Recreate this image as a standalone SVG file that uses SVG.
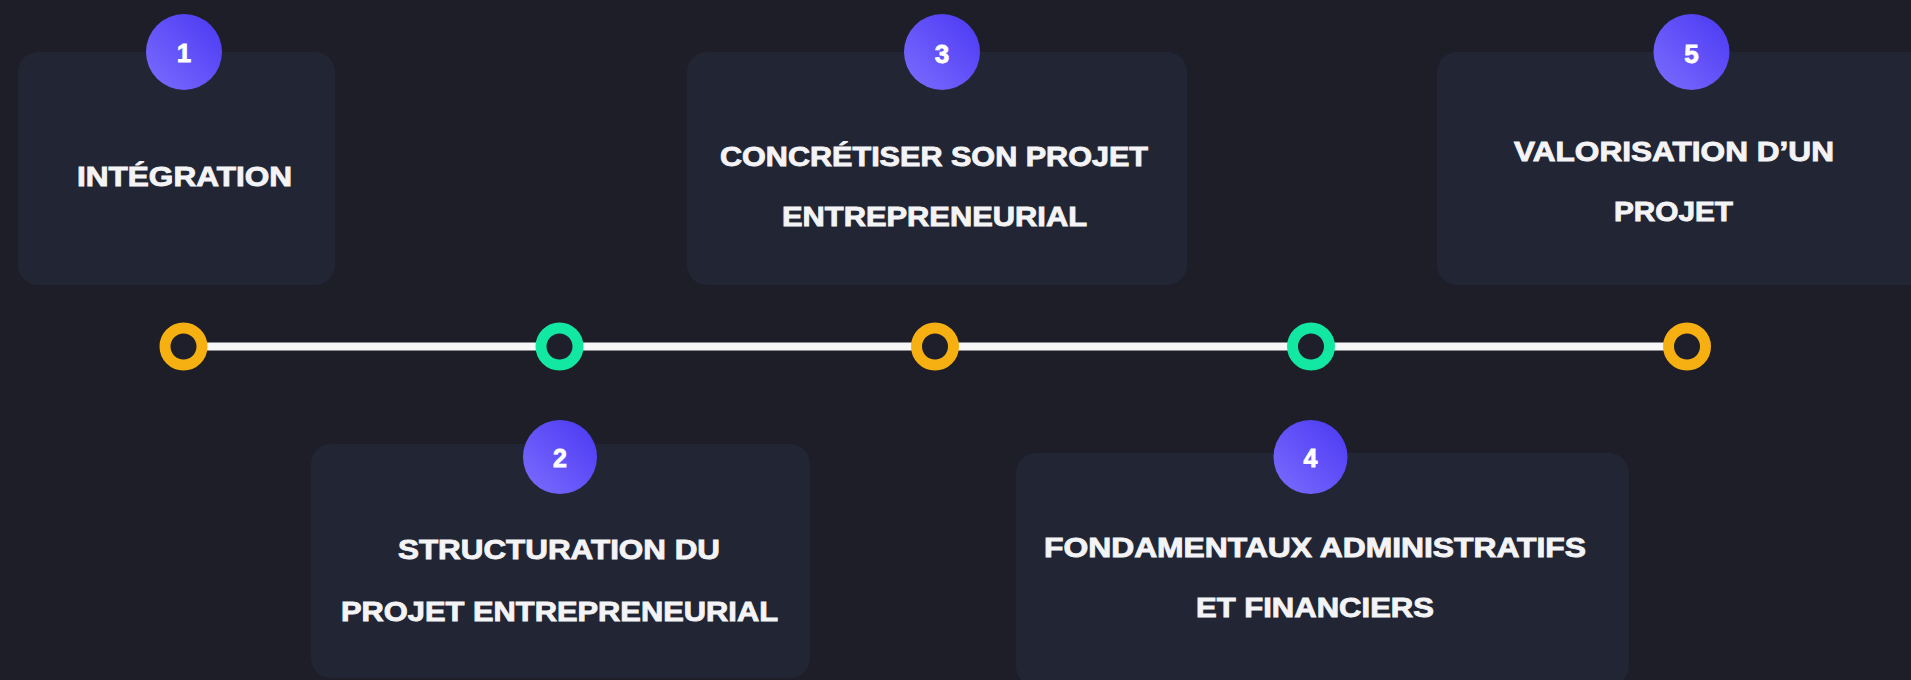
<svg xmlns="http://www.w3.org/2000/svg" width="1911" height="680" viewBox="0 0 1911 680">
  <defs>
    <linearGradient id="badge" x1="0" y1="1" x2="1" y2="0">
      <stop offset="0" stop-color="#7c6dff"/>
      <stop offset="1" stop-color="#4a38f2"/>
    </linearGradient>
  </defs>
  <style>
    .card { fill: #222634; }
    .badge { fill: url(#badge); }
    .num { font-family: "Liberation Sans", Arial, sans-serif; font-weight: 700; fill: #ffffff; text-anchor: middle; stroke: #ffffff; stroke-width: 0.8; }
    .label { font-family: "Liberation Sans", Arial, sans-serif; font-weight: 700; font-size: 28px; fill: #f4f4f6; text-anchor: middle; stroke: #f4f4f6; stroke-width: 0.9; }
    .ring-y { fill: #1e1f2b; stroke: #f6b012; stroke-width: 11; }
    .ring-g { fill: #1e1f2b; stroke: #13e8a2; stroke-width: 11; }
  </style>
  <rect x="0" y="0" width="1911" height="680" fill="#1d1e27"/>

  <g id="connectors">
    <rect x="183" y="342.5" width="1504" height="8" fill="#f7f7f7"/>
  </g>

  <g id="markers">
    <circle class="ring-y" cx="183.5" cy="346.5" r="18.5"/>
    <circle class="ring-g" cx="559.5" cy="346.5" r="18.5"/>
    <circle class="ring-y" cx="935" cy="346.5" r="18.5"/>
    <circle class="ring-g" cx="1311" cy="346.5" r="18.5"/>
    <circle class="ring-y" cx="1687" cy="346.5" r="18.5"/>
  </g>

  <g id="node1">
    <rect class="card" x="18" y="52" width="317" height="233" rx="20"/>
    <circle class="badge" cx="184" cy="52" r="38"/>
    <text class="num" x="184" y="62" font-size="26">1</text>
    <text class="label" x="184.5" y="186" textLength="215" lengthAdjust="spacingAndGlyphs">INTÉGRATION</text>
  </g>

  <g id="node2">
    <rect class="card" x="311" y="444" width="499" height="234" rx="20"/>
    <circle class="badge" cx="560" cy="457" r="37"/>
    <text class="num" x="560" y="467" font-size="25">2</text>
    <text class="label" x="559" y="559" textLength="322" lengthAdjust="spacingAndGlyphs">STRUCTURATION DU</text>
    <text class="label" x="559.5" y="621" textLength="437" lengthAdjust="spacingAndGlyphs">PROJET ENTREPRENEURIAL</text>
  </g>

  <g id="node3">
    <rect class="card" x="687" y="52" width="500" height="233" rx="20"/>
    <circle class="badge" cx="942" cy="52" r="38"/>
    <text class="num" x="942" y="63" font-size="26">3</text>
    <text class="label" x="934" y="166" textLength="428" lengthAdjust="spacingAndGlyphs">CONCRÉTISER SON PROJET</text>
    <text class="label" x="934.5" y="226" textLength="305" lengthAdjust="spacingAndGlyphs">ENTREPRENEURIAL</text>
  </g>

  <g id="node4">
    <rect class="card" x="1016" y="453" width="613" height="233" rx="20"/>
    <circle class="badge" cx="1310.5" cy="457" r="37"/>
    <text class="num" x="1310.5" y="467" font-size="25">4</text>
    <text class="label" x="1315" y="557" textLength="542" lengthAdjust="spacingAndGlyphs">FONDAMENTAUX ADMINISTRATIFS</text>
    <text class="label" x="1315" y="617" textLength="238" lengthAdjust="spacingAndGlyphs">ET FINANCIERS</text>
  </g>

  <g id="node5">
    <rect class="card" x="1437" y="52" width="500" height="233" rx="20"/>
    <circle class="badge" cx="1691.5" cy="52" r="38"/>
    <text class="num" x="1691.5" y="63" font-size="26">5</text>
    <text class="label" x="1674" y="161" textLength="320" lengthAdjust="spacingAndGlyphs">VALORISATION D’UN</text>
    <text class="label" x="1673.5" y="221" textLength="119" lengthAdjust="spacingAndGlyphs">PROJET</text>
  </g>
</svg>
